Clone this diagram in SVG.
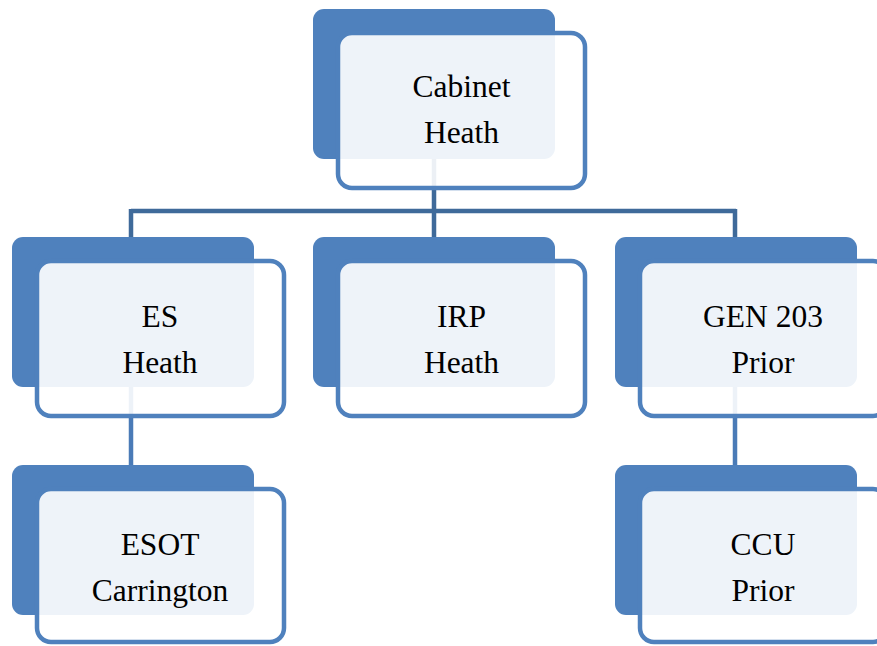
<svg xmlns="http://www.w3.org/2000/svg" width="877" height="646" viewBox="0 0 877 646">
<style>
.bk{fill:#4F81BD}
.fr{fill:#FFFFFF;fill-opacity:0.9;stroke:#4F81BD;stroke-width:4.5}
.t{font-family:"Liberation Serif","Times New Roman",Times,serif;font-size:31.5px;fill:#000;text-anchor:middle}
.c1{stroke:#3F6A9A;stroke-width:4.5;fill:none}
.c2{stroke:#4A7BB7;stroke-width:4.5;fill:none}
</style>
<rect width="877" height="646" fill="#FFFFFF"/>
<g id="connectors">
<path class="c1" d="M434 158 V211 M131 211 H736 M131 209 V239 M434 209 V239 M735 209 V239"/>
<path class="c2" d="M131 385 V467 M735 385 V467"/>
</g>
<g id="n-cabinet">
<rect class="bk" x="313" y="9" width="242" height="150" rx="11"/>
<rect class="fr" x="338" y="33" width="247" height="155" rx="14"/>
<text class="t" x="461.5" y="97">Cabinet</text>
<text class="t" x="461.5" y="143">Heath</text>
</g>
<g id="n-es">
<rect class="bk" x="12" y="237" width="242" height="150" rx="11"/>
<rect class="fr" x="37" y="261" width="247" height="155" rx="14"/>
<text class="t" x="160" y="327">ES</text>
<text class="t" x="160" y="373">Heath</text>
</g>
<g id="n-irp">
<rect class="bk" x="313" y="237" width="242" height="150" rx="11"/>
<rect class="fr" x="338" y="261" width="247" height="155" rx="14"/>
<text class="t" x="461.5" y="327">IRP</text>
<text class="t" x="461.5" y="373">Heath</text>
</g>
<g id="n-gen">
<rect class="bk" x="615" y="237" width="242" height="150" rx="11"/>
<rect class="fr" x="640" y="261" width="247" height="155" rx="14"/>
<text class="t" x="763" y="327">GEN 203</text>
<text class="t" x="763" y="373">Prior</text>
</g>
<g id="n-esot">
<rect class="bk" x="12" y="465" width="242" height="150" rx="11"/>
<rect class="fr" x="37" y="489" width="247" height="153" rx="14"/>
<text class="t" x="160" y="555">ESOT</text>
<text class="t" x="160" y="601">Carrington</text>
</g>
<g id="n-ccu">
<rect class="bk" x="615" y="465" width="242" height="150" rx="11"/>
<rect class="fr" x="640" y="489" width="247" height="153" rx="14"/>
<text class="t" x="763" y="555">CCU</text>
<text class="t" x="763" y="601">Prior</text>
</g>
</svg>
